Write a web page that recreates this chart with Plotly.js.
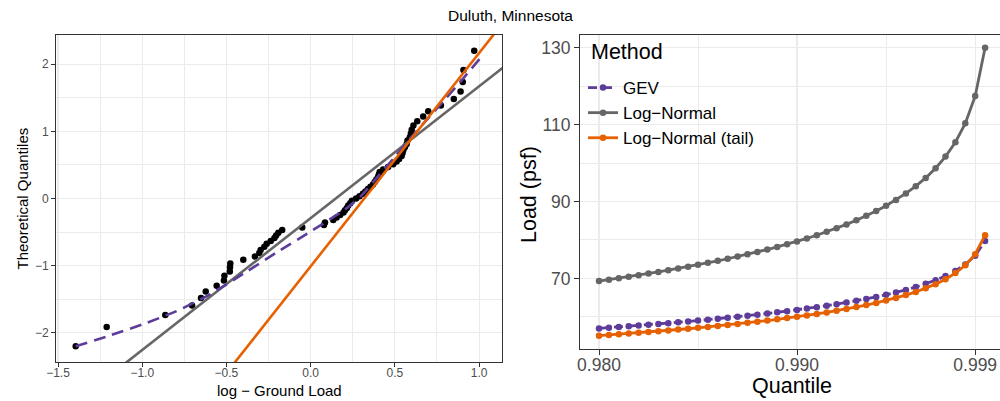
<!DOCTYPE html>
<html>
<head>
<meta charset="utf-8">
<script src="https://cdn.plot.ly/plotly-3.0.1.min.js"></script>
<style>html,body{margin:0;padding:0;background:#fff;}#chart{width:1000px;height:401px;}</style>
</head>
<body>
<div id="chart"></div>
<script>
// ---------- Left panel: QQ plot (log ground load vs theoretical quantiles) ----------
const qqLogLoad = [-1.395, -1.211, -0.863, -0.704, -0.651, -0.623, -0.558, -0.515, -0.512, -0.480,
  -0.479, -0.477, -0.400, -0.331, -0.305, -0.297, -0.275, -0.261, -0.237, -0.215,
  -0.205, -0.192, -0.169, -0.050, 0.079, 0.085, 0.134, 0.154, 0.175, 0.195,
  0.204, 0.215, 0.223, 0.235, 0.245, 0.270, 0.290, 0.310, 0.325, 0.340,
  0.355, 0.370, 0.380, 0.390, 0.400, 0.405, 0.410, 0.430, 0.460, 0.490,
  0.510, 0.525, 0.540, 0.545, 0.550, 0.560, 0.570, 0.575, 0.589, 0.595,
  0.600, 0.610, 0.633, 0.668, 0.698, 0.773, 0.850, 0.890, 0.903, 0.907, 0.971];
const qqTheoretical = [-2.200, -1.914, -1.732, -1.593, -1.480, -1.383, -1.298, -1.221, -1.150, -1.085,
  -1.024, -0.967, -0.913, -0.862, -0.812, -0.765, -0.719, -0.674, -0.631, -0.589,
  -0.549, -0.508, -0.469, -0.431, -0.393, -0.356, -0.319, -0.282, -0.246, -0.210,
  -0.175, -0.140, -0.105, -0.070, -0.035, 0.000, 0.035, 0.070, 0.105, 0.140,
  0.175, 0.210, 0.246, 0.282, 0.319, 0.356, 0.393, 0.431, 0.469, 0.508,
  0.549, 0.589, 0.631, 0.674, 0.719, 0.765, 0.812, 0.862, 0.913, 0.967,
  1.024, 1.085, 1.150, 1.221, 1.298, 1.383, 1.480, 1.593, 1.732, 1.914, 2.200];

// GEV fitted QQ curve (dashed purple)
const gevCurveX = [-1.395, -1.2, -1.0, -0.8, -0.6, -0.4, -0.2, 0.0, 0.2, 0.3, 0.4, 0.5, 0.6, 0.7, 0.8, 0.9, 1.024];
const gevCurveY = [-2.20, -2.045, -1.875, -1.68, -1.43, -1.12, -0.80, -0.49, -0.17, 0.04, 0.33, 0.62, 0.92, 1.20, 1.48, 1.77, 2.14];

// Log-Normal fitted line (grey) and Log-Normal tail line (orange): endpoints
const lnLineX = [-1.6, 1.2];
const lnLineY = [-3.431, 2.062];
const lnTailLineX = [-0.6, 1.2];
const lnTailLineY = [-2.914, 2.799];

const leftXTicks = [-1.5, -1.0, -0.5, 0.0, 0.5, 1.0];
const leftXTickText = ['\u22121.5', '\u22121.0', '\u22120.5', '0.0', '0.5', '1.0'];
const leftYTicks = [-2, -1, 0, 1, 2];
const leftYTickText = ['\u22122', '\u22121', '0', '1', '2'];

// ---------- Right panel: design load by quantile ----------
const quantiles = [0.9800, 0.9805, 0.9810, 0.9815, 0.9820, 0.9825, 0.9830, 0.9835, 0.9840, 0.9845,
  0.9850, 0.9855, 0.9860, 0.9865, 0.9870, 0.9875, 0.9880, 0.9885, 0.9890, 0.9895,
  0.9900, 0.9905, 0.9910, 0.9915, 0.9920, 0.9925, 0.9930, 0.9935, 0.9940, 0.9945,
  0.9950, 0.9955, 0.9960, 0.9965, 0.9970, 0.9975, 0.9980, 0.9985, 0.9990, 0.9995];
const loadGEV = [57.00, 57.18, 57.37, 57.56, 57.75, 57.95, 58.15, 58.36, 58.58, 58.80,
  59.03, 59.27, 59.51, 59.76, 60.02, 60.29, 60.57, 60.86, 61.17, 61.48,
  61.81, 62.16, 62.52, 62.90, 63.30, 63.73, 64.18, 64.66, 65.18, 65.74,
  66.34, 67.01, 67.75, 68.58, 69.52, 70.62, 71.95, 73.63, 75.92, 79.75];
const loadLogNormal = [69.31, 69.68, 70.06, 70.45, 70.85, 71.26, 71.69, 72.12, 72.58, 73.05,
  73.54, 74.04, 74.57, 75.11, 75.67, 76.26, 76.86, 77.51, 78.18, 78.89,
  79.62, 80.40, 81.23, 82.11, 83.04, 84.04, 85.11, 86.27, 87.52, 88.89,
  90.40, 92.09, 93.98, 96.13, 98.66, 101.67, 105.42, 110.32, 117.41, 130.00];
const loadLogNormalTail = [55.10, 55.28, 55.46, 55.65, 55.85, 56.05, 56.26, 56.47, 56.69, 56.91,
  57.15, 57.39, 57.64, 57.90, 58.16, 58.44, 58.73, 59.03, 59.35, 59.67,
  60.02, 60.38, 60.76, 61.16, 61.59, 62.05, 62.54, 63.06, 63.62, 64.24,
  64.91, 65.65, 66.48, 67.42, 68.51, 69.79, 71.38, 73.40, 76.28, 81.24];

const rightXTicks = [0.980, 0.990, 0.999];
const rightXTickText = ['0.980', '0.990', '0.999'];
const rightXMinor = [0.985, 0.9945];
const rightYTicks = [70, 90, 110, 130];
const rightYMinor = [60, 80, 100, 120];

const legendTitle = 'Method';
const methodNames = ['GEV', 'Log\u2212Normal', 'Log\u2212Normal (tail)'];
const colGEV = '#5e3c99', colLN = '#666666', colTail = '#e66101';

const FONT = 'Liberation Sans, Arial, sans-serif';
const GRID = '#ebebeb';
const BORDER = '#333333';
const TICKCOL = '#4d4d4d';

const traces = [
  {x: qqLogLoad, y: qqTheoretical, type: 'scatter', mode: 'markers', xaxis: 'x', yaxis: 'y',
   marker: {color: '#000000', size: 6.5}, showlegend: false, hoverinfo: 'skip'},
  {x: lnLineX, y: lnLineY, type: 'scatter', mode: 'lines', xaxis: 'x', yaxis: 'y',
   line: {color: colLN, width: 2.6}, showlegend: false, hoverinfo: 'skip'},
  {x: gevCurveX, y: gevCurveY, type: 'scatter', mode: 'lines', xaxis: 'x', yaxis: 'y',
   line: {color: colGEV, width: 2.6, dash: '12px,7px', shape: 'spline', smoothing: 0.6}, showlegend: false, hoverinfo: 'skip'},
  {x: lnTailLineX, y: lnTailLineY, type: 'scatter', mode: 'lines', xaxis: 'x', yaxis: 'y',
   line: {color: colTail, width: 2.6}, showlegend: false, hoverinfo: 'skip'},

  {x: quantiles, y: loadGEV, type: 'scatter', mode: 'lines+markers', xaxis: 'x2', yaxis: 'y2',
   name: methodNames[0], line: {color: colGEV, width: 2.8, dash: '9px,6px'}, marker: {color: colGEV, size: 6.5}},
  {x: quantiles, y: loadLogNormal, type: 'scatter', mode: 'lines+markers', xaxis: 'x2', yaxis: 'y2',
   name: methodNames[1], line: {color: colLN, width: 2.8}, marker: {color: colLN, size: 6.5}},
  {x: quantiles, y: loadLogNormalTail, type: 'scatter', mode: 'lines+markers', xaxis: 'x2', yaxis: 'y2',
   name: methodNames[2], line: {color: colTail, width: 2.8}, marker: {color: colTail, size: 6.5}}
];

const py = v => (401 - v) / 401;

const layout = {
  width: 1000, height: 401,
  margin: {l: 0, r: 0, t: 0, b: 0},
  paper_bgcolor: '#ffffff', plot_bgcolor: '#ffffff',
  font: {family: FONT, color: '#000000'},
  showlegend: true,
  xaxis: {
    domain: [0.056, 0.502], range: [-1.512, 1.136], anchor: 'y',
    tickvals: leftXTicks, ticktext: leftXTickText,
    tickfont: {family: FONT, size: 12, color: TICKCOL},
    ticks: 'outside', ticklen: 4, tickcolor: BORDER, tickwidth: 1, ticklabelstandoff: -4,
    showgrid: true, gridcolor: GRID, gridwidth: 1.1,
    minor: {tickvals: [-1.25, -0.75, -0.25, 0.25, 0.75], showgrid: true, gridcolor: GRID, gridwidth: 1, ticks: ''},
    showline: true, linecolor: BORDER, linewidth: 1, mirror: true, zeroline: false
  },
  yaxis: {
    domain: [py(362), py(35)], range: [-2.433, 2.433], anchor: 'x',
    tickvals: leftYTicks, ticktext: leftYTickText,
    tickfont: {family: FONT, size: 12, color: TICKCOL},
    ticks: 'outside', ticklen: 4, tickcolor: BORDER, tickwidth: 1,
    showgrid: true, gridcolor: GRID, gridwidth: 1.1,
    minor: {tickvals: [-1.5, -0.5, 0.5, 1.5], showgrid: true, gridcolor: GRID, gridwidth: 1, ticks: ''},
    showline: true, linecolor: BORDER, linewidth: 1, mirror: true, zeroline: false
  },
  xaxis2: {
    domain: [0.580, 1.0], range: [0.97904, 1.000253], anchor: 'y2',
    tickvals: rightXTicks, ticktext: rightXTickText,
    tickfont: {family: FONT, size: 17.5, color: TICKCOL},
    ticks: 'outside', ticklen: 5, tickcolor: BORDER, tickwidth: 1, ticklabelstandoff: -5,
    showgrid: true, gridcolor: GRID, gridwidth: 1.3,
    minor: {tickvals: rightXMinor, showgrid: true, gridcolor: GRID, gridwidth: 1, ticks: ''},
    showline: true, linecolor: BORDER, linewidth: 1, mirror: true, zeroline: false
  },
  yaxis2: {
    domain: [py(349.3), py(35)], range: [51.56, 133.3], anchor: 'x2',
    tickvals: rightYTicks,
    tickfont: {family: FONT, size: 17.5, color: TICKCOL},
    ticks: 'outside', ticklen: 5, tickcolor: BORDER, tickwidth: 1,
    showgrid: true, gridcolor: GRID, gridwidth: 1.3,
    minor: {tickvals: rightYMinor, showgrid: true, gridcolor: GRID, gridwidth: 1, ticks: ''},
    showline: true, linecolor: BORDER, linewidth: 1, mirror: false, zeroline: false
  },
  legend: {
    x: 0.583, y: py(70), xanchor: 'left', yanchor: 'top',
    bgcolor: 'rgba(0,0,0,0)', borderwidth: 0,
    font: {family: FONT, size: 17, color: '#000000'},
    itemwidth: 30, tracegroupgap: 0
  },
  shapes: [
    // white legend box background inside the right panel (as drawn by the reference)
    {type: 'rect', xref: 'paper', yref: 'paper', x0: 0.5805, x1: 0.767, y0: py(145), y1: py(35.5),
     fillcolor: '#ffffff', line: {width: 0}, layer: 'below'}
  ],
  annotations: [
    {text: 'Duluth, Minnesota', xref: 'paper', yref: 'paper', x: 0.51, y: py(15),
     xanchor: 'center', yanchor: 'middle', showarrow: false, font: {family: FONT, size: 15.5, color: '#000000'}},
    {text: 'log \u2212 Ground Load', xref: 'paper', yref: 'paper', x: 0.279, y: py(390),
     xanchor: 'center', yanchor: 'middle', showarrow: false, font: {family: FONT, size: 15, color: '#000000'}},
    {text: 'Theoretical Quantiles', xref: 'paper', yref: 'paper', x: 0.022, y: py(198.5),
     xanchor: 'center', yanchor: 'middle', textangle: -90, showarrow: false, font: {family: FONT, size: 15, color: '#000000'}},
    {text: 'Quantile', xref: 'paper', yref: 'paper', x: 0.792, y: py(386),
     xanchor: 'center', yanchor: 'middle', showarrow: false, font: {family: FONT, size: 21.5, color: '#000000'}},
    {text: 'Load (psf)', xref: 'paper', yref: 'paper', x: 0.529, y: py(195),
     xanchor: 'center', yanchor: 'middle', textangle: -90, showarrow: false, font: {family: FONT, size: 21.5, color: '#000000'}},
    {text: legendTitle, xref: 'paper', yref: 'paper', x: 0.589, y: py(52),
     xanchor: 'left', yanchor: 'middle', showarrow: false, font: {family: FONT, size: 21.5, color: '#000000'}}
  ]
};

Plotly.newPlot('chart', traces, layout, {displayModeBar: false, staticPlot: true});
</script>
</body>
</html>
